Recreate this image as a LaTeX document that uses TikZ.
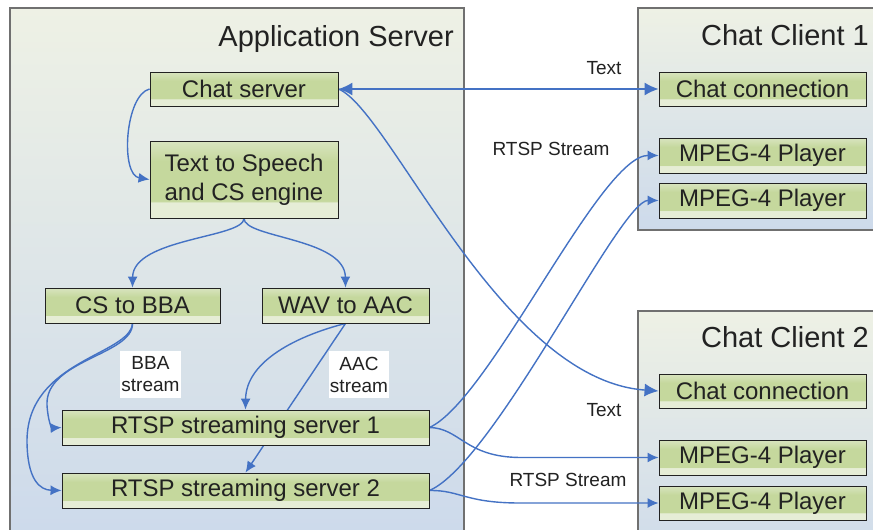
\documentclass[tikz,border=0pt]{standalone}
\usepackage{fontspec}
\setmainfont{Liberation Sans}
\usetikzlibrary{arrows.meta}
\definecolor{boxlow}{HTML}{E6EDD6}
\definecolor{boxgreen}{HTML}{C5D89D}
\definecolor{boxtop}{HTML}{D8E4BF}
\definecolor{boxline}{HTML}{222222}
\definecolor{pantop}{HTML}{EEF1E5}
\definecolor{panbot}{HTML}{CDDAEB}
\definecolor{panelline}{HTML}{707070}
\definecolor{arr}{HTML}{4472C4}
\definecolor{txt}{HTML}{222222}
\pgfdeclareverticalshading{boxshade}{100bp}{color(0bp)=(boxlow); color(25bp)=(boxlow); color(35bp)=(boxlow); color(36bp)=(boxgreen); color(62bp)=(boxgreen); color(75bp)=(boxtop); color(100bp)=(boxtop)}
\pgfdeclarelayer{bg}
\pgfdeclarelayer{mid}
\pgfsetlayers{bg,mid,main}
\begin{document}
\begin{tikzpicture}[x=1pt,y=-1pt,
  box/.style={draw=boxline, line width=0.9pt, shading=boxshade, minimum height=35pt, inner sep=0pt, font=\fontsize{24}{29}\selectfont, text=txt, align=center},
  panelfill/.style={top color=pantop, bottom color=panbot},
  panelline/.style={draw=panelline, line width=1.3pt},
  conn/.style={draw=arr, line width=1.4pt, -{Latex[length=11pt,width=10pt]}},
  bigtip/.style={-{Latex[length=14pt,width=13pt]}},
  bothtip/.style={{Latex[length=14pt,width=13pt]}-{Latex[length=14pt,width=13pt]}},
  lab/.style={font=\fontsize{19}{22}\selectfont, text=txt, inner sep=1pt, align=center},
  title/.style={anchor=base east, font=\fontsize{29}{32}\selectfont, text=txt, inner sep=0pt}
]
\useasboundingbox (0,0) rectangle (873,530);
\begin{pgfonlayer}{bg}
\fill[white] (0,0) rectangle (873,530);
\fill[top color=pantop, bottom color=panbot] (10,8) rectangle (464,530);
\draw[panelline] (10,530) -- (10,8) -- (464,8) -- (464,530);
\fill[top color=pantop, bottom color=panbot] (638,8) rectangle (873,230);
\draw[panelline] (873,230) -- (638,230) -- (638,8) -- (873,8);
\fill[top color=pantop, bottom color=panbot!85!pantop] (638,311) rectangle (873,530);
\draw[panelline] (638,530) -- (638,311) -- (873,311);
\end{pgfonlayer}

\node[title] (tas) at (454,46) {Application Server};
\node[title] (tc1) at (869,45) {Chat Client 1};
\node[title] (tc2) at (869,347) {Chat Client 2};

\node[box, minimum width=188pt, minimum height=34pt] (cs) at (244,89) {Chat server};
\node[box, minimum width=188pt, minimum height=77pt] (tts) at (244,179.5) {Text to Speech\\and CS engine};
\node[box, minimum width=175pt] (bba) at (132.5,305.5) {CS to BBA};
\node[box, minimum width=167pt] (wav) at (345.5,305.5) {WAV to AAC};
\node[box, minimum width=367pt] (r1) at (245.5,427.5) {RTSP streaming server 1};
\node[box, minimum width=367pt] (r2) at (245.5,490.5) {RTSP streaming server 2};

\node[box, minimum width=207pt, minimum height=34pt] (cc1) at (762.5,89) {Chat connection};
\node[box, minimum width=207pt] (p11) at (762.5,155.5) {MPEG-4 Player};
\node[box, minimum width=207pt] (p12) at (762.5,200.5) {MPEG-4 Player};
\node[box, minimum width=207pt, minimum height=34pt] (cc2) at (762.5,391) {Chat connection};
\node[box, minimum width=207pt] (p21) at (762.5,457.5) {MPEG-4 Player};
\node[box, minimum width=207pt, minimum height=34pt] (p22) at (762.5,503) {MPEG-4 Player};

\node[lab, fill=white, minimum width=61pt, minimum height=47pt] (lbba) at (150.5,374.5) {BBA\\stream};
\node[lab, fill=white, minimum width=60pt, minimum height=47pt] (laac) at (359,374.5) {AAC\\stream};
\node[lab, anchor=base] (lt1) at (604,74) {Text};
\node[lab, anchor=base] (lr1) at (551,155) {RTSP Stream};
\node[lab, anchor=base] (lt2) at (604,416) {Text};
\node[lab, anchor=base] (lr2) at (568,486) {RTSP Stream};

\begin{pgfonlayer}{mid}
\draw[conn] (cs.west) .. controls (125,95) and (120,175) .. (tts.west);
\draw[conn] (tts.south) .. controls (244,238) and (133,238) .. (bba.north);
\draw[conn] (tts.south) .. controls (244,238) and (345,238) .. (wav.north);
\draw[conn] (bba.south) .. controls (133,355) and (45,360) .. (47,405) .. controls (48,422) and (52,428) .. (r1.west);
\draw[conn] (bba.south) .. controls (130,355) and (28,360) .. (27,440) .. controls (27,480) and (40,490) .. (r2.west);
\draw[conn] (wav.south) .. controls (300,335) and (246,360) .. (r1.north);
\draw[conn] (wav.south) -- (r2.north);
\draw[conn, bothtip] (cs.east) -- (cc1.west);
\draw[conn, bigtip] (cs.east) .. controls (390,110) and (500,380) .. (cc2.west);
\draw[conn] (r1.east) .. controls (490,400) and (600,155) .. (p11.west);
\draw[conn] (r2.east) .. controls (495,462) and (620,200) .. (p12.west);
\draw[conn] (r1.east) .. controls (460,428) and (465,457) .. (520,457.5) -- (p21.west);
\draw[conn] (r2.east) .. controls (460,490) and (465,503) .. (520,503) -- (p22.west);
\end{pgfonlayer}
\end{tikzpicture}
\end{document}
